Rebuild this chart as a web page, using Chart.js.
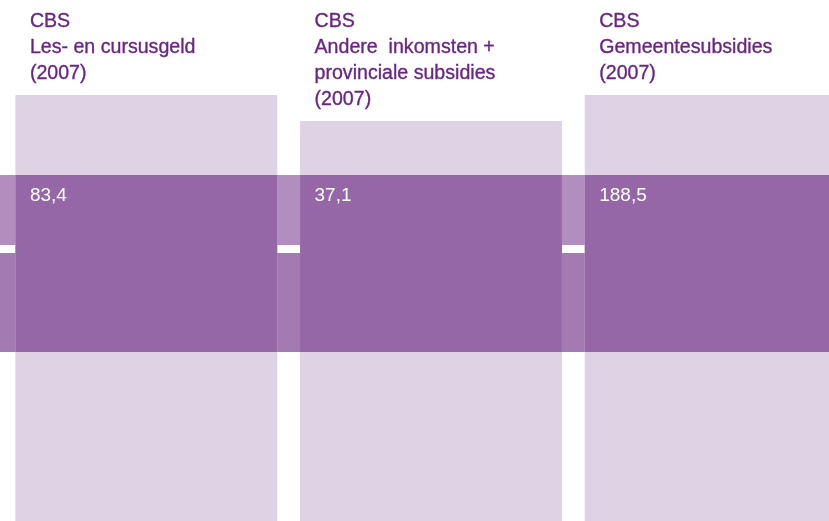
<!DOCTYPE html>
<html>
<head>
<meta charset="utf-8">
<script src="https://cdn.jsdelivr.net/npm/chart.js@4.4.1/dist/chart.umd.min.js"></script>
<style>
  html, body { margin: 0; padding: 0; background: #fff; overflow: hidden; }
  #wrap { position: relative; width: 858px; height: 521px; }
</style>
</head>
<body>
<div id="wrap"><canvas id="chartCanvas"></canvas></div>
<script>
// Kolomtitels (CBS-bronnen)
const categories = [
  ['CBS', 'Les- en cursusgeld', '(2007)'],
  ['CBS', 'Andere  inkomsten +', 'provinciale subsidies', '(2007)'],
  ['CBS', 'Gemeentesubsidies', '(2007)']
];
// Waarden (miljoen euro)
const values = [83.4, 37.1, 188.5];

// Hoogte van de lichte kolommen (hoger bij kortere titel)
const columnTops = [426, 400, 426];
// Donkere horizontale band en witte scheidingslijn
const band = [169, 346];
const bandSplit = [268, 276];

const kleurLicht = '#dfd2e5';
const kleurBand = '#9567a7';
const kleurBandBoven = '#b28ebe';
const kleurBandOnder = '#a37bb2';
const kleurTitel = '#6a2584';

const formatWaarde = (v) => String(v).replace('.', ',');

// Band tussen de kolommen (over de hele breedte, achter de kolommen)
const bandPlugin = {
  id: 'bandPlugin',
  beforeDatasetsDraw(chart) {
    const { ctx, scales: { y } } = chart;
    const w = chart.width;
    const top = y.getPixelForValue(band[1]);
    const splitTop = y.getPixelForValue(bandSplit[1]);
    const splitBottom = y.getPixelForValue(bandSplit[0]);
    const bottom = y.getPixelForValue(band[0]);
    ctx.save();
    ctx.fillStyle = kleurBandBoven;
    ctx.fillRect(0, top, w, splitTop - top);
    ctx.fillStyle = kleurBandOnder;
    ctx.fillRect(0, splitBottom, w, bottom - splitBottom);
    ctx.restore();
  }
};

// Titels boven de kolommen en waarden in de band
const tekstPlugin = {
  id: 'tekstPlugin',
  afterDatasetsDraw(chart) {
    const { ctx, scales: { y } } = chart;
    const meta = chart.getDatasetMeta(1);
    ctx.save();
    ctx.textBaseline = 'alphabetic';
    ctx.textAlign = 'left';
    meta.data.forEach((bar, i) => {
      const x = bar.x - bar.width / 2 + 14.5;
      // titel, iets zwaarder dan normaal
      ctx.font = '19.6px "Liberation Sans", Arial, sans-serif';
      ctx.fillStyle = kleurTitel;
      ctx.strokeStyle = kleurTitel;
      ctx.lineWidth = 0.35;
      categories[i].forEach((regel, r) => {
        ctx.fillText(regel, x, 27 + r * 26);
        ctx.strokeText(regel, x, 27 + r * 26);
      });
      ctx.font = '19px "Liberation Sans", Arial, sans-serif';
      ctx.fillStyle = '#ffffff';
      ctx.fillText(formatWaarde(values[i]), x, y.getPixelForValue(band[1]) + 26);
    });
    ctx.restore();
  }
};

const ctx = document.getElementById('chartCanvas').getContext('2d');
new Chart(ctx, {
  type: 'bar',
  data: {
    labels: categories.map(c => c.join(' ')),
    datasets: [
      {
        // donkere band binnen de kolommen
        data: values.map(() => [band[0], band[1]]),
        backgroundColor: kleurBand,
        grouped: false,
        barPercentage: 0.92,
        categoryPercentage: 1
      },
      {
        // lichte kolommen
        data: columnTops.map(t => [0, t]),
        backgroundColor: kleurLicht,
        grouped: false,
        barPercentage: 0.92,
        categoryPercentage: 1
      }
    ]
  },
  options: {
    responsive: true,
    maintainAspectRatio: false,
    animation: false,
    layout: { padding: { left: 4, right: 0, top: 0, bottom: 0 } },
    plugins: {
      legend: { display: false },
      tooltip: { enabled: false }
    },
    scales: {
      x: { display: false },
      y: { display: false, min: 0, max: 521 }
    }
  },
  plugins: [bandPlugin, tekstPlugin]
});
</script>
</body>
</html>
